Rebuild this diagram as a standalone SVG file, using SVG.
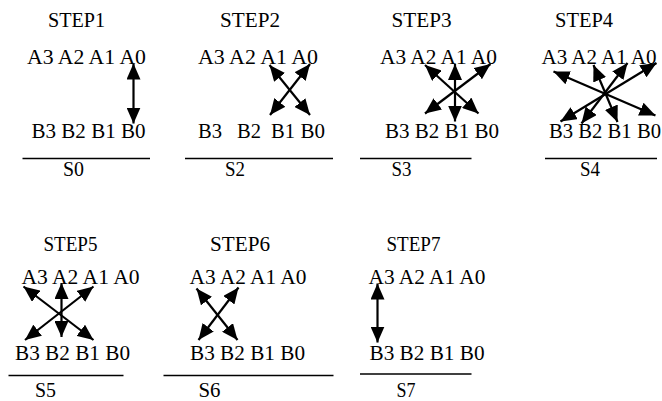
<svg xmlns="http://www.w3.org/2000/svg" width="662" height="401" viewBox="0 0 662 401">
  <style>
    .t { font-family: "Liberation Serif", "Times New Roman", serif; font-size: 20px; fill: #000; }
    .rule { stroke: #000; stroke-width: 1.5; }
    .arr { stroke: #000; stroke-width: 2.2; fill: none; marker-start: url(#ah); marker-end: url(#ah); }
  </style>
  <defs>
    <marker id="ah" markerWidth="16" markerHeight="14" refX="16" refY="7" orient="auto-start-reverse" markerUnits="userSpaceOnUse">
      <path d="M0,0 L16,7 L0,14 z" fill="#000"/>
    </marker>
  </defs>
  <rect width="662" height="401" fill="#fff"/>

  <!-- step 1 -->
  <g id="step1">
    <text class="t" x="48" y="27" textLength="57" lengthAdjust="spacingAndGlyphs">STEP1</text>
    <text class="t" x="27" y="64" textLength="119" lengthAdjust="spacingAndGlyphs">A3 A2 A1 A0</text>
    <text class="t" x="31.5" y="138" textLength="114" lengthAdjust="spacingAndGlyphs">B3 B2 B1 B0</text>
    <line class="rule" x1="22.5" y1="158.5" x2="150" y2="158.5"/>
    <text class="t" x="63" y="175.5" textLength="21" lengthAdjust="spacingAndGlyphs">S0</text>
  </g>

  <!-- step 2 -->
  <g id="step2">
    <text class="t" x="220" y="27" textLength="60" lengthAdjust="spacingAndGlyphs">STEP2</text>
    <text class="t" x="198" y="64" textLength="120" lengthAdjust="spacingAndGlyphs">A3 A2 A1 A0</text>
    <text class="t" y="138"><tspan x="198" textLength="24" lengthAdjust="spacingAndGlyphs">B3</tspan> <tspan x="237" textLength="24" lengthAdjust="spacingAndGlyphs">B2</tspan> <tspan x="271" textLength="24" lengthAdjust="spacingAndGlyphs">B1</tspan> <tspan x="300.5" textLength="24.5" lengthAdjust="spacingAndGlyphs">B0</tspan></text>
    <line class="rule" x1="185" y1="158.5" x2="333" y2="158.5"/>
    <text class="t" x="225" y="175.5" textLength="20" lengthAdjust="spacingAndGlyphs">S2</text>
  </g>

  <!-- step 3 -->
  <g id="step3">
    <text class="t" x="391.5" y="27" textLength="60" lengthAdjust="spacingAndGlyphs">STEP3</text>
    <text class="t" x="380" y="64" textLength="117" lengthAdjust="spacingAndGlyphs">A3 A2 A1 A0</text>
    <text class="t" x="385" y="138" textLength="114" lengthAdjust="spacingAndGlyphs">B3 B2 B1 B0</text>
    <line class="rule" x1="360" y1="158.5" x2="471.5" y2="158.5"/>
    <text class="t" x="391.5" y="175.5" textLength="20" lengthAdjust="spacingAndGlyphs">S3</text>
  </g>

  <!-- step 4 -->
  <g id="step4">
    <text class="t" x="555" y="27" textLength="58" lengthAdjust="spacingAndGlyphs">STEP4</text>
    <text class="t" x="541.5" y="64" textLength="115" lengthAdjust="spacingAndGlyphs">A3 A2 A1 A0</text>
    <text class="t" x="549" y="138" textLength="112" lengthAdjust="spacingAndGlyphs">B3 B2 B1 B0</text>
    <line class="rule" x1="545" y1="158.5" x2="657" y2="158.5"/>
    <text class="t" x="580" y="175.5" textLength="20" lengthAdjust="spacingAndGlyphs">S4</text>
  </g>

  <!-- step 5 -->
  <g id="step5">
    <text class="t" x="43.5" y="251" textLength="54" lengthAdjust="spacingAndGlyphs">STEP5</text>
    <text class="t" x="21.5" y="284" textLength="118" lengthAdjust="spacingAndGlyphs">A3 A2 A1 A0</text>
    <text class="t" x="15" y="360" textLength="115" lengthAdjust="spacingAndGlyphs">B3 B2 B1 B0</text>
    <line class="rule" x1="8.5" y1="375.5" x2="123.5" y2="375.5"/>
    <text class="t" x="35" y="397" textLength="21" lengthAdjust="spacingAndGlyphs">S5</text>
  </g>

  <!-- step 6 -->
  <g id="step6">
    <text class="t" x="210" y="251" textLength="60" lengthAdjust="spacingAndGlyphs">STEP6</text>
    <text class="t" x="189.5" y="284" textLength="117" lengthAdjust="spacingAndGlyphs">A3 A2 A1 A0</text>
    <text class="t" x="190" y="360" textLength="115" lengthAdjust="spacingAndGlyphs">B3 B2 B1 B0</text>
    <line class="rule" x1="163.5" y1="375.5" x2="333.5" y2="375.5"/>
    <text class="t" x="198.5" y="397" textLength="22" lengthAdjust="spacingAndGlyphs">S6</text>
  </g>

  <!-- step 7 -->
  <g id="step7">
    <text class="t" x="386.5" y="251" textLength="54" lengthAdjust="spacingAndGlyphs">STEP7</text>
    <text class="t" x="368.5" y="284" textLength="117" lengthAdjust="spacingAndGlyphs">A3 A2 A1 A0</text>
    <text class="t" x="369.5" y="360" textLength="115" lengthAdjust="spacingAndGlyphs">B3 B2 B1 B0</text>
    <line class="rule" x1="360" y1="374" x2="471.5" y2="374"/>
    <text class="t" x="396.5" y="397" textLength="19" lengthAdjust="spacingAndGlyphs">S7</text>
  </g>

  <!-- swap connectors between A and B bits -->
  <g id="connectors">
    <line class="arr" x1="133.5" y1="63.5" x2="133.5" y2="123.5"/>

    <line class="arr" x1="269.5" y1="65" x2="310" y2="115"/>
    <line class="arr" x1="310" y1="64" x2="270" y2="115"/>

    <line class="arr" x1="425" y1="65" x2="478.5" y2="113.5"/>
    <line class="arr" x1="455" y1="64" x2="455" y2="121.5"/>
    <line class="arr" x1="490.5" y1="64" x2="425" y2="113.5"/>

    <line class="arr" x1="553.5" y1="71.5" x2="655.5" y2="115.5"/>
    <line class="arr" x1="593.5" y1="65" x2="617.5" y2="122"/>
    <line class="arr" x1="627.5" y1="63" x2="581.5" y2="123.5"/>
    <line class="arr" x1="656.5" y1="63" x2="560.5" y2="121.5"/>

    <line class="arr" x1="23.5" y1="286.5" x2="93.5" y2="340"/>
    <line class="arr" x1="61.5" y1="283" x2="61.5" y2="337"/>
    <line class="arr" x1="93.5" y1="286.5" x2="25" y2="340"/>

    <line class="arr" x1="196.5" y1="288.5" x2="237.5" y2="340"/>
    <line class="arr" x1="238.5" y1="287.5" x2="198.5" y2="340"/>

    <line class="arr" x1="377.5" y1="283.5" x2="377.5" y2="342.5"/>
  </g>
</svg>
